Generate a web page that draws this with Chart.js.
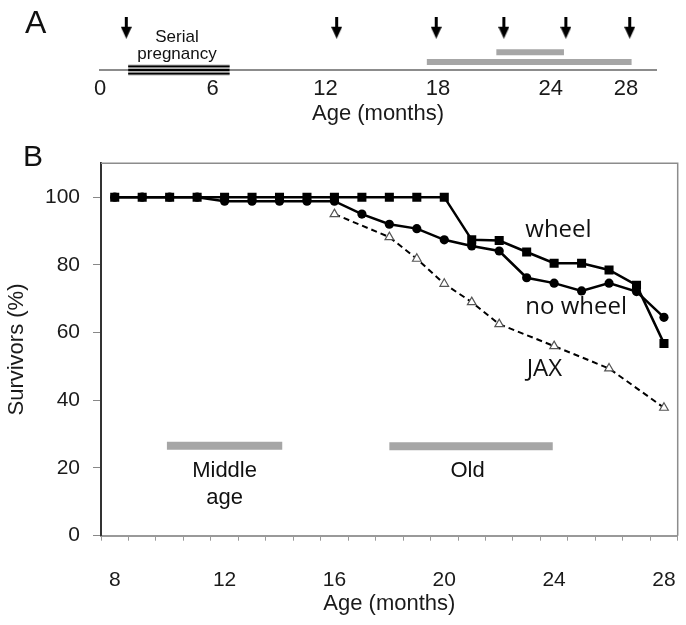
<!DOCTYPE html>
<html>
<head>
<meta charset="utf-8">
<script src="https://cdn.jsdelivr.net/npm/chart.js@4.4.1/dist/chart.umd.min.js"></script>
<style>
  body { margin: 0; background: #fff; }
  #wrap { position: relative; width: 686px; height: 625px; font-family: 'Liberation Sans', Arial, sans-serif; color: #111; }
  canvas { position: absolute; left: 0; }
  #chartA { top: 0; }
  #chartB { top: 130px; }
  .panel { position: absolute; line-height: 1; }
</style>
</head>
<body>
<div id="wrap">
  <canvas id="chartA" width="686" height="130"></canvas>
  <canvas id="chartB" width="686" height="495"></canvas>
  <div class="panel" style="left:25px;top:6px;font-size:32px">A</div>
  <div class="panel" style="left:23px;top:141px;font-size:30px">B</div>
</div>
<script>
// --- panel A: timeline (months) ---
const timelineTicks = [0, 6, 12, 18, 24, 28];
const arrowMonths = [1.4, 12.6, 17.9, 21.5, 24.8, 28.2];
const pregnancySpan = [1.5, 6.9];
const longBarSpan = [17.4, 28.3];
const shortBarSpan = [21.1, 24.7];

// --- panel B: survival curves ---
const months = [8, 9, 10, 11, 12, 13, 14, 15, 16, 17, 18, 19, 20, 21, 22, 23, 24, 25, 26, 27, 28];
const wheel = [100, 100, 100, 100, 100, 100, 100, 100, 100, 100, 100, 100, 100, 87.4, 87.2, 83.8, 80.5, 80.5, 78.5, 74, 56.8];
const noWheel = [100, 100, 100, 100, 98.8, 98.8, 98.8, 98.8, 98.8, 95.0, 92.0, 90.7, 87.4, 85.6, 84.1, 76.2, 74.6, 72.3, 74.6, 72.1, 64.5];
const jax = [null, null, null, null, null, null, null, null, 95.0, null, 88.2, 81.8, 74.4, 69.0, 62.5, null, 56.0, null, 49.4, null, 37.8];
const ageTicks = [8, 12, 16, 20, 24, 28];
const middleAgeSpan = [9.9, 14.1];
const oldSpan = [18, 23.95];

const sans = "'Liberation Sans', Arial, sans-serif";
const open = "'Open Sans', sans-serif";

const spanLine = (span, level) => span.map(m => ({ x: m, y: level }));
const series = vals => months.map((m, i) => ({ x: m, y: vals[i] }));

function notesPlugin(items) {
    return {
        id: 'notes',
        afterDatasetsDraw(chart) {
            const { ctx, scales: { x, y } } = chart;
            ctx.save();
            items.forEach(n => {
                ctx.font = n.font;
                ctx.fillStyle = '#111';
                ctx.textAlign = n.align || 'center';
                ctx.textBaseline = 'middle';
                ctx.fillText(n.text, x.getPixelForValue(n.x), y.getPixelForValue(n.y));
            });
            ctx.restore();
        }
    };
}

const framePlugin = {
    id: 'frame',
    beforeDatasetsDraw(chart) {
        const { ctx, chartArea: a } = chart;
        ctx.save();
        ctx.strokeStyle = '#8c8c8c';
        ctx.lineWidth = 1.5;
        ctx.beginPath();
        ctx.moveTo(a.left, a.top);
        ctx.lineTo(a.right, a.top);
        ctx.lineTo(a.right, a.bottom);
        ctx.stroke();
        ctx.restore();
    }
};

// arrow marker for panel A
const arrow = document.createElement('canvas');
arrow.width = 11;
arrow.height = 22;
const actx = arrow.getContext('2d');
actx.fillStyle = '#000';
actx.fillRect(4, 0, 3, 11);
actx.beginPath();
actx.moveTo(0, 10);
actx.lineTo(11, 10);
actx.lineTo(5.5, 22);
actx.closePath();
actx.fill();

const thinLine = (span, level) => ({
    data: spanLine(span, level), borderColor: '#000', borderWidth: 1.8,
    pointRadius: 0, clip: false, order: 1
});
const grayBar = (span, level, w) => ({
    data: spanLine(span, level), borderColor: '#a6a6a6', borderWidth: w,
    pointRadius: 0, borderCapStyle: 'butt', clip: false, order: 3
});

new Chart(document.getElementById('chartA'), {
    type: 'line',
    data: {
        datasets: [
            thinLine(pregnancySpan, 0.64),
            thinLine(pregnancySpan, 0),
            thinLine(pregnancySpan, -0.64),
            { data: spanLine(pregnancySpan, 0), borderColor: '#b4b4b4', borderWidth: 11, pointRadius: 0, borderCapStyle: 'butt', clip: false, order: 2 },
            grayBar(longBarSpan, 1.39, 6),
            grayBar(shortBarSpan, 3.04, 6),
            { type: 'scatter', data: arrowMonths.map(m => ({ x: m, y: 7.29 })), pointStyle: arrow, pointRadius: 11, showLine: false, clip: false }
        ]
    },
    options: {
        responsive: false,
        animation: false,
        layout: { padding: { left: 100, right: 30, top: 0, bottom: 0 } },
        plugins: { legend: { display: false }, tooltip: { enabled: false } },
        scales: {
            x: {
                type: 'linear', min: 0, max: 29.6,
                afterBuildTicks: s => { s.ticks = timelineTicks.map(v => ({ value: v })); },
                afterFit: s => { s.height = 60; s.paddingLeft = 0; s.paddingRight = 0; },
                grid: { display: false, drawTicks: false },
                border: { color: '#8c8c8c', width: 2 },
                ticks: { autoSkip: false, maxRotation: 0, padding: 6, color: '#1a1a1a', font: { family: sans, size: 22 } },
                title: { display: true, text: 'Age (months)', color: '#1a1a1a', font: { family: sans, size: 22 }, padding: { top: 0, bottom: 3 } }
            },
            y: { display: false, min: 0, max: 10 }
        }
    },
    plugins: [notesPlugin([
        { text: 'Serial', x: 4.1, y: 5.62, font: `17px ${sans}` },
        { text: 'pregnancy', x: 4.1, y: 2.75, font: `17px ${sans}` }
    ])]
});

// half-month tick marks between categories, labels every 4 months
const halfTicks = months.map(m => m - 0.5).concat([months[months.length - 1] + 0.5]);

new Chart(document.getElementById('chartB'), {
    type: 'line',
    data: {
        datasets: [
            { label: 'no wheel', data: series(noWheel), borderColor: '#000', backgroundColor: '#000', borderWidth: 2.5, pointStyle: 'circle', pointRadius: 4.6, pointBorderWidth: 0 },
            { label: 'wheel', data: series(wheel), borderColor: '#000', backgroundColor: '#000', borderWidth: 2.5, pointStyle: 'rect', pointRadius: 6.4, pointBorderWidth: 0 },
            { label: 'JAX', data: series(jax), spanGaps: true, borderColor: '#000', borderWidth: 2, borderDash: [6, 4], pointStyle: 'triangle', pointRadius: 5, pointBackgroundColor: '#fff', pointBorderColor: '#555', pointBorderWidth: 1.2 },
            { label: 'Middle age', data: spanLine(middleAgeSpan, 26.6), borderColor: '#a6a6a6', borderWidth: 8, pointRadius: 0, borderCapStyle: 'butt' },
            { label: 'Old', data: spanLine(oldSpan, 26.4), borderColor: '#a6a6a6', borderWidth: 8, pointRadius: 0, borderCapStyle: 'butt' }
        ]
    },
    options: {
        responsive: false,
        animation: false,
        layout: { padding: { left: 0, right: 8.3, top: 33.3, bottom: 0 } },
        plugins: { legend: { display: false }, tooltip: { enabled: false } },
        scales: {
            x: {
                type: 'linear', min: 7.5, max: 28.5,
                afterBuildTicks: s => { s.ticks = halfTicks.concat(ageTicks).sort((a, b) => a - b).map(v => ({ value: v })); },
                afterFit: s => { s.height = 89.3; s.paddingLeft = 0; s.paddingRight = 0; },
                grid: {
                    drawOnChartArea: false, tickLength: 5,
                    tickColor: c => ageTicks.includes(c.tick.value) ? 'rgba(0,0,0,0)' : '#999'
                },
                border: { color: '#999', width: 2 },
                ticks: {
                    autoSkip: false, maxRotation: 0, minRotation: 0, padding: 27, color: '#1a1a1a',
                    font: { family: sans, size: 21 },
                    callback: v => ageTicks.includes(v) ? String(v) : ''
                },
                title: { display: true, text: 'Age (months)', color: '#1a1a1a', font: { family: sans, size: 22 }, padding: { top: 0, bottom: 8 } }
            },
            y: {
                min: 0, max: 110,
                afterBuildTicks: s => { s.ticks = s.ticks.filter(t => t.value <= 100); },
                afterFit: s => { s.width = 101; s.paddingTop = 0; s.paddingBottom = 0; },
                grid: { drawOnChartArea: false, tickLength: 8, color: '#888' },
                border: { color: '#333', width: 2 },
                ticks: { stepSize: 20, padding: 13, color: '#1a1a1a', font: { family: sans, size: 21 } },
                title: { display: true, text: 'Survivors (%)', color: '#1a1a1a', font: { family: sans, size: 22 }, padding: { top: 4, bottom: 0 } }
            }
        }
    },
    plugins: [framePlugin, notesPlugin([
        { text: 'wheel', x: 22.95, y: 90.2, align: 'left', font: `24px ${open}` },
        { text: 'no wheel', x: 22.95, y: 67.5, align: 'left', font: `24px ${open}` },
        { text: 'JAX', x: 23.0, y: 49.1, align: 'left', font: `24px ${open}` },
        { text: 'Middle', x: 12, y: 19.1, font: `22px ${sans}` },
        { text: 'age', x: 12, y: 11.3, font: `22px ${sans}` },
        { text: 'Old', x: 20.85, y: 19.1, font: `22px ${sans}` }
    ])]
});
</script>
</body>
</html>
